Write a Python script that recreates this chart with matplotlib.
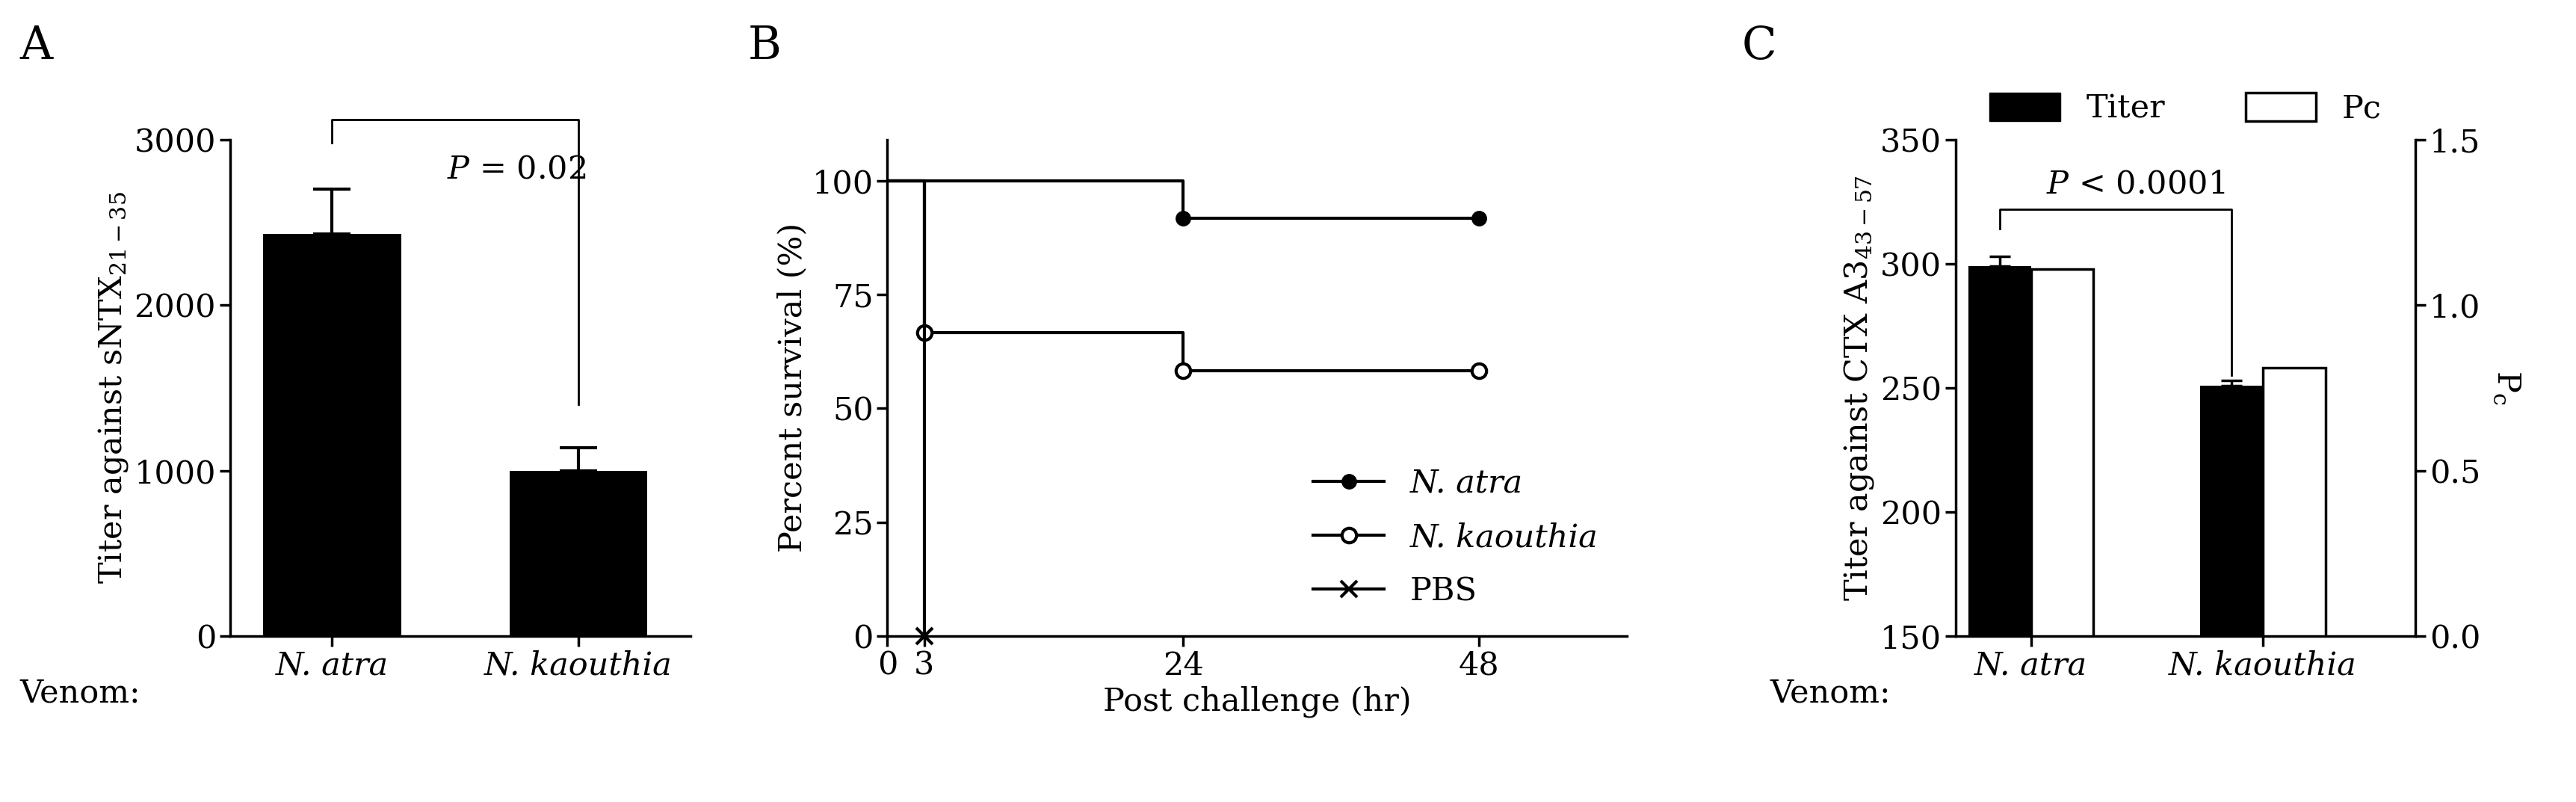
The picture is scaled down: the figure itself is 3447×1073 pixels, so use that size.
import matplotlib
matplotlib.use("Agg")
import matplotlib.pyplot as plt
from matplotlib.patches import Patch

plt.rcParams['font.family'] = ['DejaVu Serif']
plt.rcParams['mathtext.fontset'] = 'dejavuserif'
FS = 31

# Data
venoms = ["N. atra", "N. kaouthia"]
titer_A = [2430, 1000]
err_A = [270, 140]
p_A = "$P$ = 0.02"

t_atra = [0, 24, 48]; s_atra = [100, 91.7, 91.7]
t_kaou = [0, 3, 24, 48]; s_kaou = [100, 66.7, 58.3, 58.3]
t_pbs = [0, 3]; s_pbs = [100, 0]

titer_C = [299, 251]
err_C = [4, 2]
pc_C = [1.11, 0.81]
p_C = "$P$ < 0.0001"

W, H = 1568, 488
fig = plt.figure(figsize=(34.48, 10.73), dpi=100)

def ax_at(l, r, b, t):
    return fig.add_axes([l / W, 1 - b / H, (r - l) / W, (b - t) / H])

def style(ax):
    for s in ['top', 'right']:
        ax.spines[s].set_visible(False)
    for s in ['left', 'bottom']:
        ax.spines[s].set_linewidth(2.5)
    ax.tick_params(width=2.5, length=10, labelsize=FS)

# Panel A
axA = ax_at(140, 420, 387, 85)
xs = [0, 1]
axA.bar(xs, titer_A, width=0.56, color='black')
axA.errorbar(xs, titer_A, yerr=[[0, 0], err_A], fmt='none', ecolor='black', elinewidth=3, capsize=18, capthick=3)
axA.set_xlim(-0.413, 1.453); axA.set_ylim(0, 3000)
axA.set_yticks([0, 1000, 2000, 3000])
axA.set_xticks(xs); axA.set_xticklabels(venoms, style='italic')
axA.set_ylabel("Titer against sNTX$_{21-35}$", fontsize=FS)
style(axA)
axA.plot([0, 0, 1, 1], [2980, 3120, 3120, 1400], color='black', lw=2, clip_on=False)
axA.text(0.75, 2820, p_A, fontsize=FS, ha='center', va='center')
fig.text(12 / W, 1 - 422 / H, "Venom:", fontsize=FS, va='center')

# Panel B
axB = ax_at(540, 990, 387, 85)
axB.step(t_atra, s_atra, where='post', color='black', lw=3)
axB.plot(t_atra[1:], s_atra[1:], 'o', color='black', ms=14, ls='none')
axB.step(t_kaou, s_kaou, where='post', color='black', lw=3)
axB.plot(t_kaou[1:], s_kaou[1:], 'o', mfc='white', mec='black', mew=3, ms=14, ls='none')
axB.step(t_pbs, s_pbs, where='post', color='black', lw=3)
axB.plot([3], [0], 'x', color='black', ms=16, mew=3, clip_on=False)
axB.set_xlim(0, 60); axB.set_ylim(0, 109)
axB.set_xticks([0, 3, 24, 48]); axB.set_yticks([0, 25, 50, 75, 100])
axB.set_xlabel("Post challenge (hr)", fontsize=FS)
axB.set_ylabel("Percent survival (%)", fontsize=FS)
style(axB)
from matplotlib.lines import Line2D
hB = [Line2D([], [], color='black', lw=3, marker='o', ms=14),
      Line2D([], [], color='black', lw=3, marker='o', ms=14, mfc='white', mew=3),
      Line2D([], [], color='black', lw=3, marker='x', ms=16, mew=3)]
legB = axB.legend(hB, ["N. atra", "N. kaouthia", "PBS"], loc='lower right', bbox_to_anchor=(1.0, 0.0),
                  frameon=False, fontsize=FS, handlelength=2.2, labelspacing=0.7)
for t in legB.get_texts()[:2]:
    t.set_style('italic')

# Panel C
axC = ax_at(1190, 1470, 387, 85)
off, w = 0.135, 0.27
axC.bar([x - off for x in xs], titer_C, width=w, color='black', bottom=0)
axC.errorbar([x - off for x in xs], titer_C, yerr=[[0, 0], err_C], fmt='none', ecolor='black', elinewidth=2.5, capsize=10, capthick=2.5)
axC.set_xlim(-0.325, 1.659); axC.set_ylim(150, 350)
axC.set_yticks([150, 200, 250, 300, 350])
axC.set_xticks(xs); axC.set_xticklabels(venoms, style='italic')
axC.set_ylabel("Titer against CTX A3$_{43-57}$", fontsize=FS)
style(axC)
axC2 = axC.twinx()
axC2.bar([x + off for x in xs], pc_C, width=w, color='white', edgecolor='black', lw=2.5)
axC2.set_ylim(0, 1.5); axC2.set_yticks([0, 0.5, 1.0, 1.5])
axC2.set_yticklabels(["0.0", "0.5", "1.0", "1.5"])
for s in ['top', 'left', 'bottom']:
    axC2.spines[s].set_visible(False)
axC2.spines['right'].set_linewidth(2.5)
axC2.tick_params(width=2.5, length=10, labelsize=FS)
axC2.set_ylabel("P$_\\mathrm{c}$", fontsize=FS, rotation=270, labelpad=40)
axC.plot([-off, -off, 1 - off, 1 - off], [314, 322, 322, 255], color='black', lw=2, clip_on=False)
axC.text(0.45, 332, p_C, fontsize=FS, ha='center', va='center')
fig.text(1077 / W, 1 - 422 / H, "Venom:", fontsize=FS, va='center')
fig.legend([Patch(facecolor='black', edgecolor='black'), Patch(facecolor='white', edgecolor='black', lw=2.5)],
           ["Titer", "Pc"], loc='center', bbox_to_anchor=(1330 / W, 1 - 66 / H), ncol=2, frameon=False,
           fontsize=FS, handlelength=2.2, handleheight=1.0, columnspacing=2.5)

for lab, x in [("A", 12), ("B", 455), ("C", 1060)]:
    fig.text(x / W, 1 - 28 / H, lab, fontsize=44, va='center')

fig.savefig("out.png", dpi=100)
